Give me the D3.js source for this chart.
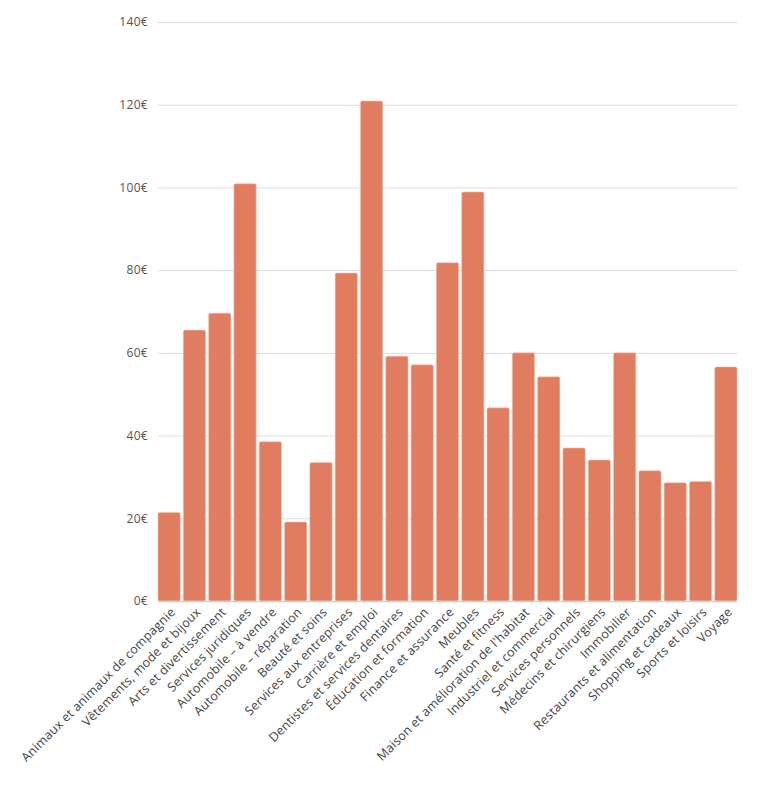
<!DOCTYPE html>
<html>
<head>
<meta charset="utf-8">
<script src="https://cdn.jsdelivr.net/npm/d3@7"></script>
<style>
  body { margin: 0; background: #fff; }
  text { font-family: "Open Sans", sans-serif; }
</style>
</head>
<body>
<div id="chart"></div>
<script>
// Categories and values (average cost, €)
const categories = [
  'Animaux et animaux de compagnie',
  'Vêtements, mode et bijoux',
  'Arts et divertissement',
  'Services juridiques',
  'Automobile – à vendre',
  'Automobile – réparation',
  'Beauté et soins',
  'Services aux entreprises',
  'Carrière et emploi',
  'Dentistes et services dentaires',
  'Éducation et formation',
  'Finance et assurance',
  'Meubles',
  'Santé et fitness',
  "Maison et amélioration de l'habitat",
  'Industriel et commercial',
  'Services personnels',
  'Médecins et chirurgiens',
  'Immobilier',
  'Restaurants et alimentation',
  'Shopping et cadeaux',
  'Sports et loisirs',
  'Voyage'
];
const values = [21.4, 65.5, 69.6, 100.9, 38.5, 19.1, 33.5, 79.3, 120.9, 59.2, 57.1, 81.8, 98.9, 46.7, 60, 54.2, 37.0, 34.1, 60, 31.5, 28.6, 28.9, 56.6];
const yTicks = [0, 20, 40, 60, 80, 100, 120, 140];

const width = 768;
const height = 785;
const margin = { top: 22, right: 31, bottom: 184, left: 158 };

const svg = d3.select('#chart')
    .append('svg')
    .attr('width', width)
    .attr('height', height);

const x = d3.scaleBand()
    .domain(categories)
    .range([margin.left, width - margin.right])
    .paddingInner(0.12)
    .paddingOuter(0);

const y = d3.scaleLinear()
    .domain([0, 140])
    .range([height - margin.bottom, margin.top]);

// Grid lines + y labels
const yAxis = d3.axisLeft(y)
    .tickValues(yTicks)
    .tickSize(-(width - margin.left - margin.right))
    .tickPadding(10)
    .tickFormat(d => d + '€');

svg.append('g')
    .attr('transform', `translate(${margin.left},0)`)
    .call(yAxis)
    .call(g => g.select('.domain').remove())
    .call(g => g.selectAll('.tick line').attr('stroke', '#dcdcdc').attr('stroke-width', 1))
    .call(g => g.selectAll('.tick text')
        .attr('fill', '#555')
        .style('font-size', '12px')
        .style('letter-spacing', '0.3px'));

// Bars
svg.append('g')
    .selectAll('rect')
    .data(values)
    .enter()
    .append('rect')
    .attr('x', (d, i) => x(categories[i]))
    .attr('y', d => y(d))
    .attr('width', x.bandwidth())
    .attr('height', d => y(0) - y(d))
    .attr('rx', 1.5)
    .attr('fill', '#e07c5f')
    .attr('stroke', '#f2c2b2')
    .attr('stroke-width', 0.6);

// Baseline
svg.append('line')
    .attr('x1', margin.left)
    .attr('x2', width - margin.right)
    .attr('y1', y(0) + 0.5)
    .attr('y2', y(0) + 0.5)
    .attr('stroke', '#cfcfcf')
    .attr('stroke-width', 1.5);

// X labels (rotated)
const xAxis = d3.axisBottom(x).tickSize(0).tickPadding(0);
svg.append('g')
    .attr('transform', `translate(0,${y(0)})`)
    .call(xAxis)
    .call(g => g.select('.domain').remove())
    .call(g => g.selectAll('.tick text')
        .attr('fill', '#444')
        .style('font-size', '12.5px')
        .style('letter-spacing', '0.2px')
        .attr('text-anchor', 'end')
        .attr('dy', null)
        .attr('y', 0)
        .attr('transform', 'translate(7,12) rotate(-45)'));
</script>
</body>
</html>
